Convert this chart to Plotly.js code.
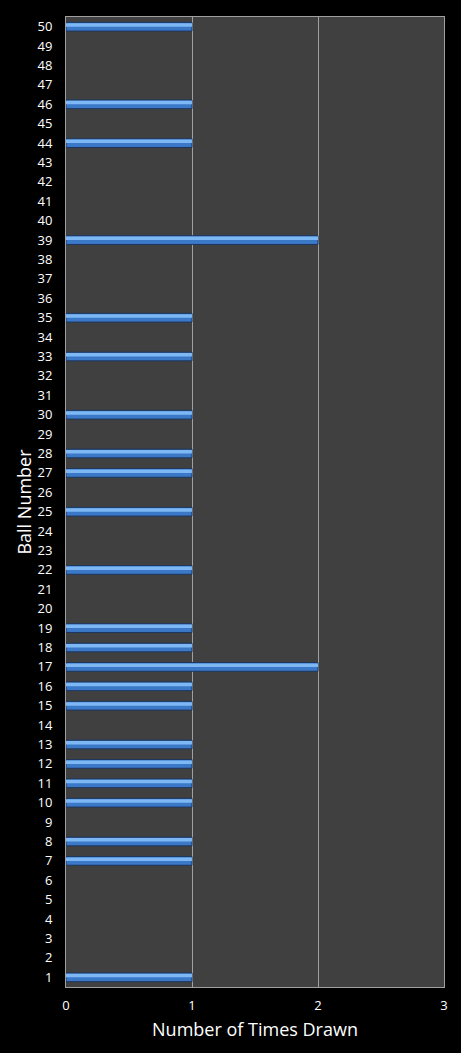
<!DOCTYPE html>
<html>
<head>
<meta charset="utf-8">
<script src="https://cdn.plot.ly/plotly-3.0.1.min.js"></script>
<style>
  html, body { margin: 0; padding: 0; background: #000; }
  #chart { width: 461px; height: 1053px; }
</style>
</head>
<body>
<div id="chart"></div>
<script>
// ball numbers 1..50 and how often each was drawn
const balls = [];
for (let i = 1; i <= 50; i++) balls.push(i);
const timesDrawn = [
  1, 0, 0, 0, 0, 0, 1, 1, 0, 1,
  1, 1, 1, 0, 1, 1, 2, 1, 1, 0,
  0, 1, 0, 0, 1, 0, 1, 1, 0, 1,
  0, 0, 1, 0, 1, 0, 0, 0, 2, 0,
  0, 0, 0, 1, 0, 1, 0, 0, 0, 1
];
const xTicks = [0, 1, 2, 3];

// hide empty bars so no stub is drawn at zero
const shown = timesDrawn.map(v => v === 0 ? null : v);

const body = {
  y: balls, x: shown, type: 'bar', orientation: 'h',
  width: 0.45,
  marker: { color: '#3b78c8', line: { color: '#1c365e', width: 1 } },
  hoverinfo: 'skip'
};
const shine = {
  y: balls, x: shown, type: 'bar', orientation: 'h',
  width: 0.18, offset: 0.0,
  marker: { color: '#7db8f4', line: { width: 0 } },
  hoverinfo: 'skip'
};

const layout = {
  width: 461, height: 1053,
  paper_bgcolor: '#000', plot_bgcolor: '#404040',
  showlegend: false, barmode: 'overlay',
  margin: { l: 66, r: 17, t: 17, b: 66, pad: 0 },
  font: { family: 'Open Sans, DejaVu Sans, sans-serif', color: '#fff' },
  xaxis: {
    range: [0, 3], tickvals: xTicks, ticks: '',
    showgrid: true, gridcolor: '#a0a0a0', gridwidth: 1,
    zeroline: false, showline: true, linecolor: '#a0a0a0', mirror: true,
    tickfont: { size: 13, color: '#fff' }, ticklabelstandoff: 6,
    title: { text: 'Number of Times Drawn', font: { size: 18, color: '#fff' }, standoff: 10 }
  },
  yaxis: {
    type: 'linear', range: [0.5, 50.5], tickvals: balls, ticks: '',
    showgrid: false, zeroline: false, showline: true, linecolor: '#a0a0a0', mirror: true,
    tickfont: { size: 13, color: '#fff' }, ticklabelstandoff: 10,
    title: { text: 'Ball Number', font: { size: 18, color: '#fff' }, standoff: 1 }
  }
};

Plotly.newPlot('chart', [body, shine], layout, { displayModeBar: false, staticPlot: true });
</script>
</body>
</html>
